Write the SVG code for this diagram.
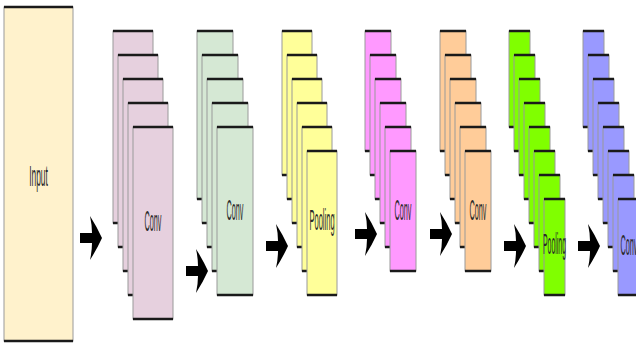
<svg xmlns="http://www.w3.org/2000/svg" width="636" height="343" viewBox="0 0 636 343">
  <style>
    .sheet { stroke: #9a9a9a; stroke-width: 1; }
    .edge { fill: none; stroke: #1a1a1a; stroke-width: 2.4; }
    .in { fill: #fff2cc; }
    .c1 { fill: #e6d0de; }
    .c2 { fill: #d5e8d4; }
    .p1 { fill: #ffff99; }
    .c3 { fill: #ff99ff; }
    .c4 { fill: #ffcc99; }
    .p2 { fill: #80ff00; }
    .c5 { fill: #9999ff; }
    .lbl { font-family: "Liberation Sans", Arial, sans-serif; font-size: 29px; fill: #2a2a2a; text-anchor: middle; }
    .arrow { fill: #000; }
  </style>
  <defs>
    <path id="fat-arrow" d="M0,-5 H12 Q12,-13 10,-22 Q17,-11 22,0 Q17,11 10,22 Q12,13 12,5 H0 Z"/>
  </defs>

  <rect width="636" height="343" fill="#ffffff"/>

  <!-- input layer -->
  <g id="input">
    <rect class="in sheet" x="4" y="7" width="69" height="334"/>
    <path class="edge" d="M4,7 h69 M4,341 h69"/>
    <text class="lbl" transform="translate(38.5,186) scale(0.29,1)">Input</text>
  </g>

  <!-- first convolution: 5 maps -->
  <g id="conv1">
    <rect class="c1 sheet" x="113" y="31" width="40" height="192"/><path class="edge" d="M113,31 h40 M113,223 h40"/>
    <rect class="c1 sheet" x="118" y="55" width="40" height="192"/><path class="edge" d="M118,55 h40 M118,247 h40"/>
    <rect class="c1 sheet" x="123" y="79" width="40" height="192"/><path class="edge" d="M123,79 h40 M123,271 h40"/>
    <rect class="c1 sheet" x="128" y="103" width="40" height="192"/><path class="edge" d="M128,103 h40 M128,295 h40"/>
    <rect class="c1 sheet" x="133" y="127" width="40" height="192"/><path class="edge" d="M133,127 h40 M133,319 h40"/>
    <text class="lbl" transform="translate(153,231) scale(0.25,1)">Conv</text>
  </g>

  <!-- second convolution: 5 maps -->
  <g id="conv2">
    <rect class="c2 sheet" x="197" y="31" width="36" height="168"/><path class="edge" d="M197,31 h36 M197,199 h36"/>
    <rect class="c2 sheet" x="202" y="55" width="36" height="168"/><path class="edge" d="M202,55 h36 M202,223 h36"/>
    <rect class="c2 sheet" x="207" y="79" width="36" height="168"/><path class="edge" d="M207,79 h36 M207,247 h36"/>
    <rect class="c2 sheet" x="212" y="103" width="36" height="168"/><path class="edge" d="M212,103 h36 M212,271 h36"/>
    <rect class="c2 sheet" x="217" y="127" width="36" height="168"/><path class="edge" d="M217,127 h36 M217,295 h36"/>
    <text class="lbl" transform="translate(235,220) scale(0.25,1)">Conv</text>
  </g>

  <!-- first pooling: 6 maps -->
  <g id="pool1">
    <rect class="p1 sheet" x="282" y="31" width="30" height="144"/><path class="edge" d="M282,31 h30 M282,175 h30"/>
    <rect class="p1 sheet" x="287" y="55" width="30" height="144"/><path class="edge" d="M287,55 h30 M287,199 h30"/>
    <rect class="p1 sheet" x="292" y="79" width="30" height="144"/><path class="edge" d="M292,79 h30 M292,223 h30"/>
    <rect class="p1 sheet" x="297" y="103" width="30" height="144"/><path class="edge" d="M297,103 h30 M297,247 h30"/>
    <rect class="p1 sheet" x="302" y="127" width="30" height="144"/><path class="edge" d="M302,127 h30 M302,271 h30"/>
    <rect class="p1 sheet" x="307" y="151" width="30" height="144"/><path class="edge" d="M307,151 h30 M307,295 h30"/>
    <text class="lbl" transform="translate(322,230) scale(0.26,1)">Pooling</text>
  </g>

  <!-- third convolution: 6 maps -->
  <g id="conv3">
    <rect class="c3 sheet" x="365" y="31" width="26" height="120"/><path class="edge" d="M365,31 h26 M365,151 h26"/>
    <rect class="c3 sheet" x="370" y="55" width="26" height="120"/><path class="edge" d="M370,55 h26 M370,175 h26"/>
    <rect class="c3 sheet" x="375" y="79" width="26" height="120"/><path class="edge" d="M375,79 h26 M375,199 h26"/>
    <rect class="c3 sheet" x="380" y="103" width="26" height="120"/><path class="edge" d="M380,103 h26 M380,223 h26"/>
    <rect class="c3 sheet" x="385" y="127" width="26" height="120"/><path class="edge" d="M385,127 h26 M385,247 h26"/>
    <rect class="c3 sheet" x="390" y="151" width="26" height="120"/><path class="edge" d="M390,151 h26 M390,271 h26"/>
    <text class="lbl" transform="translate(403,220) scale(0.25,1)">Conv</text>
  </g>

  <!-- fourth convolution: 6 maps -->
  <g id="conv4">
    <rect class="c4 sheet" x="440" y="31" width="26" height="120"/><path class="edge" d="M440,31 h26 M440,151 h26"/>
    <rect class="c4 sheet" x="445" y="55" width="26" height="120"/><path class="edge" d="M445,55 h26 M445,175 h26"/>
    <rect class="c4 sheet" x="450" y="79" width="26" height="120"/><path class="edge" d="M450,79 h26 M450,199 h26"/>
    <rect class="c4 sheet" x="455" y="103" width="26" height="120"/><path class="edge" d="M455,103 h26 M455,223 h26"/>
    <rect class="c4 sheet" x="460" y="127" width="26" height="120"/><path class="edge" d="M460,127 h26 M460,247 h26"/>
    <rect class="c4 sheet" x="465" y="151" width="26" height="120"/><path class="edge" d="M465,151 h26 M465,271 h26"/>
    <text class="lbl" transform="translate(478,220) scale(0.25,1)">Conv</text>
  </g>

  <!-- second pooling: 8 maps -->
  <g id="pool2">
    <rect class="p2 sheet" x="509" y="31" width="21" height="96"/><path class="edge" d="M509,31 h21 M509,127 h21"/>
    <rect class="p2 sheet" x="514" y="55" width="21" height="96"/><path class="edge" d="M514,55 h21 M514,151 h21"/>
    <rect class="p2 sheet" x="519" y="79" width="21" height="96"/><path class="edge" d="M519,79 h21 M519,175 h21"/>
    <rect class="p2 sheet" x="524" y="103" width="21" height="96"/><path class="edge" d="M524,103 h21 M524,199 h21"/>
    <rect class="p2 sheet" x="529" y="127" width="21" height="96"/><path class="edge" d="M529,127 h21 M529,223 h21"/>
    <rect class="p2 sheet" x="534" y="151" width="21" height="96"/><path class="edge" d="M534,151 h21 M534,247 h21"/>
    <rect class="p2 sheet" x="539" y="175" width="21" height="96"/><path class="edge" d="M539,175 h21 M539,271 h21"/>
    <rect class="p2 sheet" x="544" y="199" width="21" height="96"/><path class="edge" d="M544,199 h21 M544,295 h21"/>
    <text class="lbl" transform="translate(554.5,254) scale(0.24,1)">Pooling</text>
  </g>

  <!-- fifth convolution: 8 maps -->
  <g id="conv5">
    <rect class="c5 sheet" x="583" y="31" width="21" height="96"/><path class="edge" d="M583,31 h21 M583,127 h21"/>
    <rect class="c5 sheet" x="588" y="55" width="21" height="96"/><path class="edge" d="M588,55 h21 M588,151 h21"/>
    <rect class="c5 sheet" x="593" y="79" width="21" height="96"/><path class="edge" d="M593,79 h21 M593,175 h21"/>
    <rect class="c5 sheet" x="598" y="103" width="21" height="96"/><path class="edge" d="M598,103 h21 M598,199 h21"/>
    <rect class="c5 sheet" x="603" y="127" width="21" height="96"/><path class="edge" d="M603,127 h21 M603,223 h21"/>
    <rect class="c5 sheet" x="608" y="151" width="21" height="96"/><path class="edge" d="M608,151 h21 M608,247 h21"/>
    <rect class="c5 sheet" x="613" y="175" width="21" height="96"/><path class="edge" d="M613,175 h21 M613,271 h21"/>
    <rect class="c5 sheet" x="618" y="199" width="21" height="96"/><path class="edge" d="M618,199 h21 M618,295 h21"/>
    <text class="lbl" transform="translate(629,255) scale(0.25,1)">Conv</text>
  </g>

  <!-- connectors between layers -->
  <g id="connectors" class="arrow">
    <use href="#fat-arrow" transform="translate(80,238)"/>
    <use href="#fat-arrow" transform="translate(186,271)"/>
    <use href="#fat-arrow" transform="translate(266,246)"/>
    <use href="#fat-arrow" transform="translate(355,234)"/>
    <use href="#fat-arrow" transform="translate(430,234)"/>
    <use href="#fat-arrow" transform="translate(504,246)"/>
    <use href="#fat-arrow" transform="translate(578,246)"/>
  </g>
</svg>
